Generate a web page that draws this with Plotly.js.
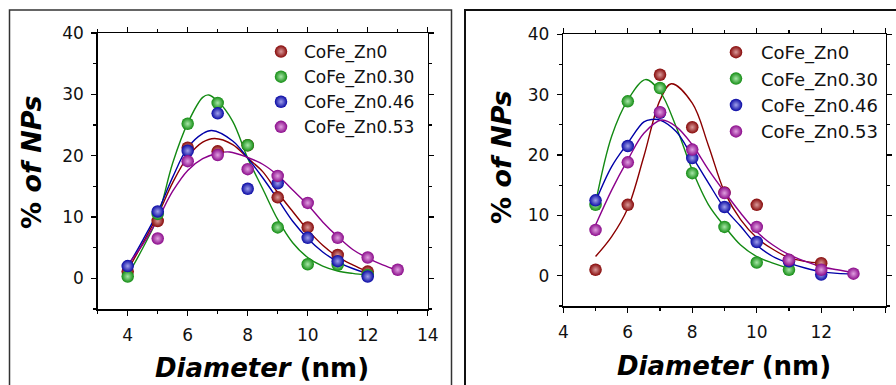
<!DOCTYPE html>
<html>
<head>
<meta charset="utf-8">
<script src="https://cdn.plot.ly/plotly-3.0.1.min.js"></script>
<style>html,body{margin:0;padding:0;background:#fff;}#chart{width:896px;height:385px;}</style>
</head>
<body>
<div id="chart"></div>
<script>
// ---------- series names ----------
const seriesNames = ['CoFe_Zn0', 'CoFe_Zn0.30', 'CoFe_Zn0.46', 'CoFe_Zn0.53'];

// ---------- LEFT panel: measured points ----------
const leftX_Zn0   = [4, 5, 6, 7, 8, 9, 10, 11, 12];
const leftY_Zn0   = [1.1, 9.35, 21.3, 20.7, 21.7, 13.2, 8.3, 3.8, 1.1];
const leftX_Zn030 = [4, 5, 6, 7, 8, 9, 10, 11, 12];
const leftY_Zn030 = [0.3, 10.5, 25.2, 28.6, 21.7, 8.3, 2.3, 2.2, 0.55];
const leftX_Zn046 = [4, 5, 6, 7, 8, 9, 10, 11, 12];
const leftY_Zn046 = [2.0, 10.9, 20.8, 26.9, 14.6, 15.5, 6.6, 2.8, 0.3];
const leftX_Zn053 = [5, 6, 7, 8, 9, 10, 11, 12, 13];
const leftY_Zn053 = [6.5, 19.1, 20.1, 17.8, 16.7, 12.3, 6.6, 3.4, 1.4];

// ---------- LEFT panel: fitted curves ----------
const leftFitX_Zn0   = [4, 4.5, 5, 5.5, 6, 6.5, 6.9, 7.5, 8, 8.5, 9, 9.5, 10, 10.5, 11, 11.5, 12];
const leftFitY_Zn0   = [1.3, 5.7, 10.3, 15.6, 19.8, 22.2, 22.8, 21.8, 19.6, 17.4, 14.0, 10.9, 7.9, 5.4, 3.5, 2.2, 1.1];
const leftFitX_Zn030 = [4, 4.5, 5, 5.5, 6, 6.5, 6.7, 7, 7.5, 8, 8.5, 9, 9.5, 10, 10.5, 11, 11.5, 12];
const leftFitY_Zn030 = [0.5, 4.9, 10.0, 18.8, 25.3, 29.5, 29.9, 28.9, 25.6, 19.6, 14.6, 9.6, 5.8, 3.4, 2.0, 1.2, 0.8, 0.5];
const leftFitX_Zn046 = [4, 4.5, 5, 5.5, 6, 6.5, 6.8, 7.5, 8, 8.5, 9, 9.5, 10, 10.5, 11, 11.5, 12];
const leftFitY_Zn046 = [1.9, 6.2, 10.8, 16.5, 21.3, 23.6, 24.1, 22.4, 19.6, 16.4, 12.9, 9.3, 6.5, 4.3, 2.7, 1.6, 0.8];
const leftFitX_Zn053 = [4, 4.5, 5, 5.5, 6, 6.5, 7, 7.4, 8, 8.5, 9, 9.5, 10, 10.5, 11, 11.5, 12, 12.5, 13];
const leftFitY_Zn053 = [2.2, 5.5, 9.6, 14.2, 17.6, 19.5, 20.4, 20.6, 19.7, 18.6, 16.8, 14.4, 12.0, 9.2, 6.8, 4.7, 3.3, 2.2, 1.3];

// ---------- RIGHT panel: measured points ----------
const rightX_Zn0   = [5, 6, 7, 8, 9, 10, 11, 12];
const rightY_Zn0   = [1.0, 11.75, 33.3, 24.6, 13.8, 11.75, 2.6, 2.1];
const rightX_Zn030 = [5, 6, 7, 8, 9, 10, 11];
const rightY_Zn030 = [11.75, 28.9, 31.1, 17.0, 8.1, 2.2, 1.0];
const rightX_Zn046 = [5, 6, 7, 8, 9, 10, 11, 12];
const rightY_Zn046 = [12.5, 21.5, 27.0, 19.5, 11.4, 5.6, 2.4, 0.2];
const rightX_Zn053 = [5, 6, 7, 8, 9, 10, 11, 12, 13];
const rightY_Zn053 = [7.6, 18.8, 27.1, 20.9, 13.7, 8.1, 2.65, 1.0, 0.35];

// ---------- RIGHT panel: fitted curves ----------
const rightFitX_Zn0   = [5, 5.5, 6, 6.5, 7, 7.35, 8, 8.5, 9, 9.5, 10, 10.5, 11, 11.5, 12];
const rightFitY_Zn0   = [3.2, 6.5, 11.2, 19.8, 29.1, 31.8, 28.6, 21.6, 13.9, 9.3, 6.3, 4.4, 3.0, 2.4, 2.1];
const rightFitX_Zn030 = [5, 5.5, 6, 6.55, 7, 7.5, 8, 8.5, 9, 9.5, 10, 10.5, 11];
const rightFitY_Zn030 = [12.0, 23.1, 29.1, 32.5, 30.5, 24.7, 17.5, 11.8, 8.2, 5.1, 3.2, 2.1, 1.2];
const rightFitX_Zn046 = [5, 5.5, 6, 6.5, 6.75, 7, 7.5, 8, 8.5, 9, 9.5, 10, 10.5, 11, 11.5, 12, 12.5, 13];
const rightFitY_Zn046 = [12.3, 18.1, 22.0, 25.5, 25.9, 25.8, 23.9, 19.75, 15.4, 11.2, 8.2, 5.1, 3.2, 2.1, 1.3, 0.7, 0.4, 0.3];
const rightFitX_Zn053 = [5, 5.5, 6, 6.5, 7.05, 7.5, 8, 8.5, 9, 9.5, 10, 10.5, 11, 11.5, 12, 12.5, 13];
const rightFitY_Zn053 = [8.4, 14.2, 19.2, 23.6, 25.8, 24.7, 21.7, 17.6, 13.9, 10.4, 7.3, 5.1, 3.5, 2.4, 1.5, 1.0, 0.55];

// ---------- styling ----------
const lineColors = ['#8b0000', '#138a13', '#0000a8', '#8b008b'];
const ballColors = ['#860808', '#128c12', '#0808a4', '#8a0a8a'];
const ballHighlights = ['#d99a9a', '#a8e6a8', '#a0a0ea', '#e0a0e0'];
const FONT = 'DejaVu Sans, Arial, sans-serif';

const leftPts = [[leftX_Zn0, leftY_Zn0], [leftX_Zn030, leftY_Zn030], [leftX_Zn046, leftY_Zn046], [leftX_Zn053, leftY_Zn053]];
const leftFits = [[leftFitX_Zn0, leftFitY_Zn0], [leftFitX_Zn030, leftFitY_Zn030], [leftFitX_Zn046, leftFitY_Zn046], [leftFitX_Zn053, leftFitY_Zn053]];
const rightPts = [[rightX_Zn0, rightY_Zn0], [rightX_Zn030, rightY_Zn030], [rightX_Zn046, rightY_Zn046], [rightX_Zn053, rightY_Zn053]];
const rightFits = [[rightFitX_Zn0, rightFitY_Zn0], [rightFitX_Zn030, rightFitY_Zn030], [rightFitX_Zn046, rightFitY_Zn046], [rightFitX_Zn053, rightFitY_Zn053]];

const traces = [];
function addPanel(pts, fits, xa, ya, legendId) {
  fits.forEach((f, i) => {
    traces.push({
      x: f[0], y: f[1], xaxis: xa, yaxis: ya, mode: 'lines', type: 'scatter',
      line: {color: lineColors[i], width: 1.4, shape: 'spline', smoothing: 1.0},
      showlegend: false, hoverinfo: 'skip'
    });
  });
  pts.forEach((p, i) => {
    traces.push({
      x: p[0], y: p[1], xaxis: xa, yaxis: ya, mode: 'markers', type: 'scatter',
      name: seriesNames[i], legend: legendId,
      marker: {size: 12.5, color: ballColors[i], line: {width: 0},
               gradient: {type: 'radial', color: ballHighlights[i]}}
    });
  });
}
addPanel(leftPts, leftFits, 'x', 'y', 'legend');
addPanel(rightPts, rightFits, 'x2', 'y2', 'legend2');

function axisStyle(extra) {
  return Object.assign({
    showline: true, linecolor: '#000', linewidth: 1.5, mirror: 'ticks',
    ticks: 'outside', ticklen: 5, tickwidth: 1.3, tickcolor: '#000',
    showgrid: false, zeroline: false,
    tickfont: {family: FONT, size: 17, color: '#111'}
  }, extra);
}
const minorX = {ticks: 'outside', ticklen: 3, tickwidth: 1.2, tickcolor: '#000', dtick: 1, tick0: 0, showgrid: false};
const minorY = {ticks: 'outside', ticklen: 3, tickwidth: 1.2, tickcolor: '#000', dtick: 5, tick0: 0, showgrid: false};

const W = 896, H = 385;
const px = v => v / W, py = v => 1 - v / H;

const legendBase = {
  bgcolor: 'rgba(0,0,0,0)', borderwidth: 0,
  xanchor: 'left', yanchor: 'top', tracegroupgap: 0, itemsizing: 'trace'
};

const layout = {
  width: W, height: H,
  margin: {l: 0, r: 0, t: 0, b: 0},
  paper_bgcolor: '#fff', plot_bgcolor: '#fff',
  showlegend: true,
  xaxis: axisStyle({domain: [px(97.7), px(427.7)], range: [3, 14], dtick: 2, tick0: 0,
                    minor: minorX, anchor: 'y', ticklabelstandoff: 5}),
  yaxis: axisStyle({domain: [py(309), py(33)], range: [-5, 40], dtick: 10, tick0: 0,
                    minor: minorY, anchor: 'x', ticklabelstandoff: 4}),
  xaxis2: axisStyle({domain: [px(563.3), px(885.7)], range: [4, 14], dtick: 2, tick0: 0,
                    minor: minorX, anchor: 'y2', ticklabelstandoff: 5}),
  yaxis2: axisStyle({domain: [py(306), py(34.3)], range: [-5, 40], dtick: 10, tick0: 0,
                    minor: minorY, anchor: 'x2', ticklabelstandoff: 4}),
  legend: Object.assign({}, legendBase, {x: px(258), y: py(34), itemwidth: 36,
                    font: {family: FONT, size: 17, color: '#111'}}),
  legend2: Object.assign({}, legendBase, {x: px(711), y: py(34), itemwidth: 40,
                    font: {family: FONT, size: 18, color: '#111'}}),
  shapes: [
    {type: 'rect', xref: 'paper', yref: 'paper', x0: px(9.5), x1: px(451.5), y0: -0.2, y1: py(10),
     line: {color: '#333', width: 1.5}, fillcolor: 'rgba(0,0,0,0)', layer: 'below'},
    {type: 'rect', xref: 'paper', yref: 'paper', x0: px(465), x1: 1.2, y0: -0.2, y1: py(10),
     line: {color: '#111', width: 2}, fillcolor: 'rgba(0,0,0,0)', layer: 'below'}
  ],
  annotations: [
    {xref: 'paper', yref: 'paper', x: px(262), y: py(368), text: '<b><i>Diameter</i> (nm)</b>',
     showarrow: false, xanchor: 'center', yanchor: 'middle', font: {family: FONT, size: 26, color: '#000'}},
    {xref: 'paper', yref: 'paper', x: px(32), y: py(162), text: '<b>% <i>of NPs</i></b>', textangle: -90,
     showarrow: false, xanchor: 'center', yanchor: 'middle', font: {family: FONT, size: 27, color: '#000'}},
    {xref: 'paper', yref: 'paper', x: px(724), y: py(366), text: '<b><i>Diameter</i> (nm)</b>',
     showarrow: false, xanchor: 'center', yanchor: 'middle', font: {family: FONT, size: 26, color: '#000'}},
    {xref: 'paper', yref: 'paper', x: px(501), y: py(157), text: '<b>% <i>of NPs</i></b>', textangle: -90,
     showarrow: false, xanchor: 'center', yanchor: 'middle', font: {family: FONT, size: 27, color: '#000'}}
  ]
};

Plotly.newPlot('chart', traces, layout, {displayModeBar: false, staticPlot: true});
</script>
</body>
</html>
